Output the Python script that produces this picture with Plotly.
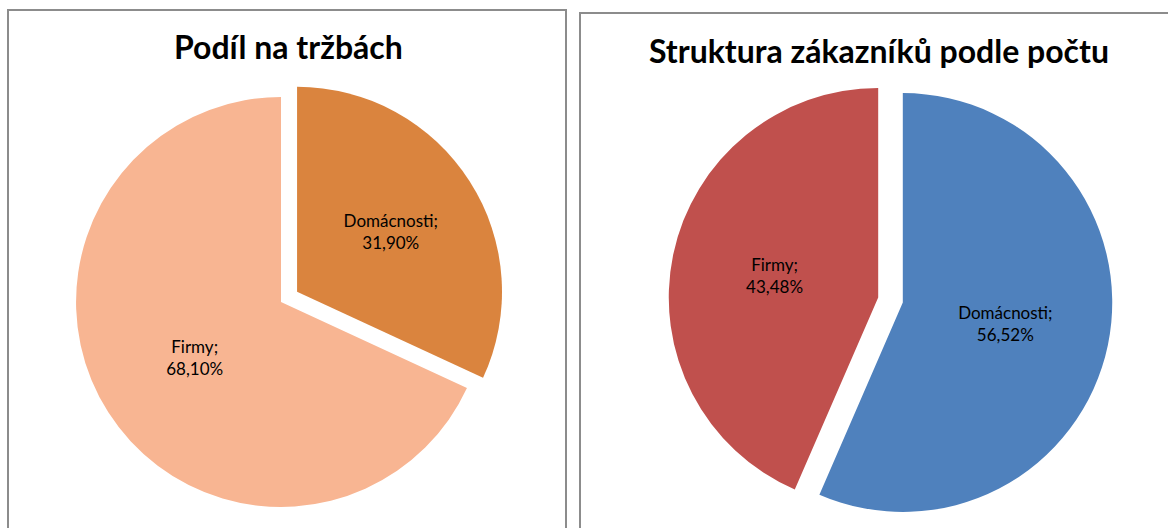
import plotly.graph_objects as go

W, H = 1168, 528

# data
categories = ["Domácnosti", "Firmy"]
trzby_values = [31.90, 68.10]          # Podíl na tržbách
zakaznici_values = [56.52, 43.48]      # Struktura zákazníků podle počtu
titles = ["Podíl na tržbách", "Struktura zákazníků podle počtu"]

left_colors = ["#DA843E", "#F8B592"]
right_colors = ["#4F81BD", "#C0504D"]

def px_x(a, b):
    return [a / W, b / W]

def px_y(top, bottom):
    return [(H - bottom) / H, (H - top) / H]

fig = go.Figure()

fig.add_trace(go.Pie(
    labels=categories, values=trzby_values,
    sort=False, direction="clockwise", rotation=0,
    pull=[0.093, 0],
    marker=dict(colors=left_colors, line=dict(width=0)),
    texttemplate="%{label};<br>%{percent:.2%}",
    textposition="inside", insidetextorientation="horizontal",
    textfont=dict(family="Lato", size=17, color="black"),
    domain=dict(x=px_x(57, 505), y=px_y(78, 526)),
    showlegend=False, hoverinfo="label+percent",
))

fig.add_trace(go.Pie(
    labels=categories, values=zakaznici_values,
    sort=False, direction="clockwise", rotation=0,
    pull=[0.06, 0.06],
    marker=dict(colors=right_colors, line=dict(width=0)),
    texttemplate="%{label};<br>%{percent:.2%}",
    textposition="inside", insidetextorientation="horizontal",
    textfont=dict(family="Lato", size=17, color="black"),
    domain=dict(x=px_x(668.5, 1112.5), y=px_y(78, 522)),
    showlegend=False, hoverinfo="label+percent",
))

fig.add_annotation(text="<b>" + titles[0] + "</b>", x=288 / W, y=(H - 47) / H,
                   xref="paper", yref="paper", showarrow=False,
                   xanchor="center", yanchor="middle",
                   font=dict(family="Lato", size=32, color="black"))
fig.add_annotation(text="<b>" + titles[1] + "</b>", x=879 / W, y=(H - 50) / H,
                   xref="paper", yref="paper", showarrow=False,
                   xanchor="center", yanchor="middle",
                   font=dict(family="Lato", size=32, color="black"))

# chart frames
fig.add_shape(type="rect", xref="paper", yref="paper",
              x0=8 / W, x1=566 / W, y0=-0.05, y1=(H - 10) / H,
              line=dict(color="#8C8C8C", width=2), fillcolor="rgba(0,0,0,0)", layer="below")
fig.add_shape(type="rect", xref="paper", yref="paper",
              x0=580 / W, x1=1.05, y0=-0.05, y1=(H - 13) / H,
              line=dict(color="#8C8C8C", width=2), fillcolor="rgba(0,0,0,0)", layer="below")

fig.update_layout(
    width=W, height=H,
    margin=dict(l=0, r=0, t=0, b=0),
    paper_bgcolor="white", plot_bgcolor="white",
    separators=", ",
    font=dict(family="Lato"),
)

fig.write_html("out.html",
               config={"displayModeBar": False},
               post_script="document.body.style.margin='0';document.body.style.overflow='hidden';")
